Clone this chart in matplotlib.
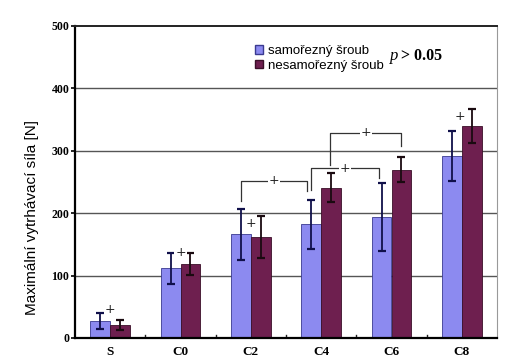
import matplotlib
matplotlib.use("Agg")
import matplotlib.pyplot as plt
import numpy as np
from matplotlib.patches import Patch

categories = ["S", "C0", "C2", "C4", "C6", "C8"]
self_tapping = [27, 112, 166, 182, 194, 292]
self_tapping_err = [13, 25, 41, 39, 54, 40]
non_self_tapping = [21, 119, 162, 241, 270, 340]
non_self_tapping_err = [8, 18, 33, 23, 20, 27]
series_labels = ["samořezný šroub", "nesamořezný šroub"]
y_ticks = [0, 100, 200, 300, 400, 500]

fig = plt.figure(figsize=(5.09, 3.63), dpi=100)
ax = fig.add_axes([75/509, 25/363, 422/509, 312/363])

x = np.arange(len(categories))
w = 0.284
blue = "#8C8AF0"
purple = "#6E1F4F"
ax.bar(x - w/2, self_tapping, w, color=blue, edgecolor="#3a3a90", linewidth=0.6, zorder=2)
ax.bar(x + w/2, non_self_tapping, w, color=purple, edgecolor="#3a0f28", linewidth=0.6, zorder=2)
ax.errorbar(x - w/2, self_tapping, yerr=self_tapping_err, fmt="none", ecolor="#10104a",
            elinewidth=1.3, capsize=3, capthick=1.6, zorder=3)
ax.errorbar(x + w/2, non_self_tapping, yerr=non_self_tapping_err, fmt="none", ecolor="#1a0a10",
            elinewidth=1.3, capsize=3, capthick=1.6, zorder=3)

ax.set_xlim(-0.5, len(categories) - 0.5)
ax.set_ylim(0, 500)
ax.set_yticks(y_ticks)
ax.set_yticklabels([str(t) for t in y_ticks], fontfamily="Liberation Serif", fontweight="bold", fontsize=8.5)
ax.set_xticks(x)
ax.set_xticklabels(categories, fontfamily="Liberation Serif", fontweight="bold", fontsize=9.5)
ax.tick_params(axis="x", length=0, pad=6)
ax.tick_params(axis="y", length=3, width=1.2, pad=1)
for b in np.arange(0.5, len(categories) - 0.5, 1):
    ax.plot([b, b], [0, 5], color="#222222", lw=1, zorder=1)
for t in y_ticks[1:-1]:
    ax.axhline(t, color="#555555", lw=1.0, zorder=0)

ax.spines["left"].set_linewidth(1.6)
ax.spines["bottom"].set_linewidth(1.6)
ax.spines["top"].set_linewidth(1.4)
ax.spines["top"].set_color("#222222")
ax.spines["right"].set_color("#999999")
ax.spines["right"].set_linewidth(0.8)

ax.set_ylabel("Maximální vytrhávací síla [N]", fontfamily="Liberation Sans", fontsize=11)
ax.yaxis.set_label_coords(-0.086, 0.385)

# significance markers
def plus(xp, yp):
    ax.text(xp, yp, "+", ha="center", va="center", fontsize=9, color="#222222", zorder=4,
            bbox=dict(facecolor="white", edgecolor="none", pad=0.5))

plus(0, 45)
plus(1, 137)
plus(2, 184)
plus(5 - 0.02, 355)

def bracket(x1, y1, x2, y2, ytop):
    ax.plot([x1, x1, x2, x2], [y1, ytop, ytop, y2], color="#333333", lw=0.9, zorder=3)
    plus((x1 + x2) / 2, ytop)

bracket(2 - w/2, 220, 3 - w/2 - 0.06, 235, 252)
bracket(3 - w/2, 237, 4 - w/2 - 0.03, 256, 272)
bracket(3 + w/2 - 0.01, 277, 4 + w/2, 308, 329)

handles = [Patch(facecolor=blue, edgecolor="#3a3a90"), Patch(facecolor=purple, edgecolor="#3a0f28")]
fig.legend(handles, series_labels, loc="upper left", bbox_to_anchor=(250/509, 1 - 40/363),
           frameon=False, handlelength=0.6, handleheight=0.6, handletextpad=0.4,
           labelspacing=0.2, prop={"family": "Liberation Sans", "size": 9.5}, borderaxespad=0)

fig.text(390/509, 1 - 56/363, "p", fontfamily="Liberation Serif", style="italic", fontsize=12, va="center")
fig.text(401/509, 1 - 56/363, "> 0.05", fontfamily="Liberation Serif", fontweight="bold", fontsize=11.5, va="center")

fig.savefig("out.png", dpi=100)
